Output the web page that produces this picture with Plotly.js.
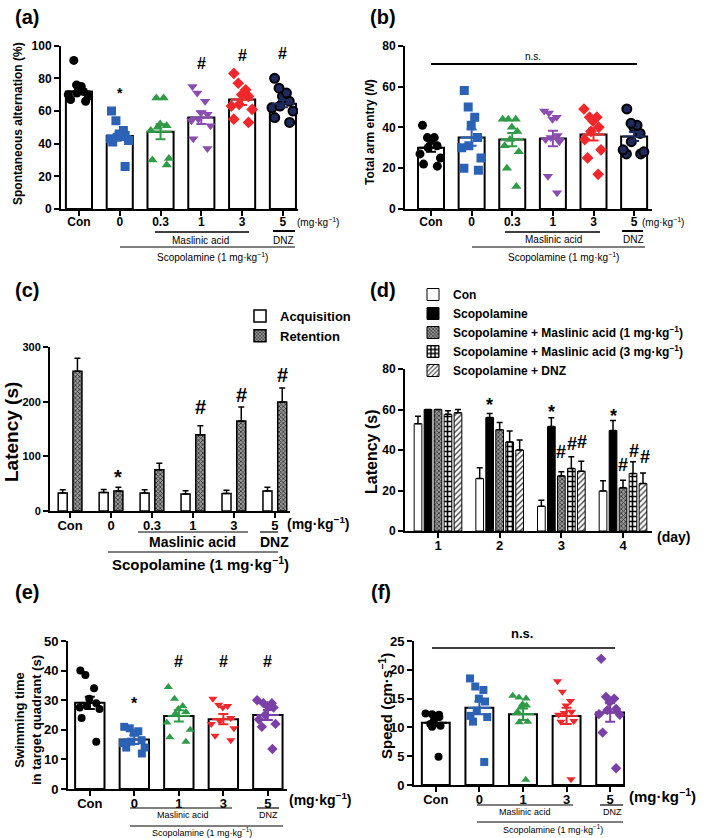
<!DOCTYPE html>
<html>
<head>
<meta charset="utf-8">
<script src="https://cdn.plot.ly/plotly-3.0.1.min.js"></script>
<style>body{margin:0;background:#fff}#chart{width:709px;height:838px}</style>
</head>
<body>
<div id="chart"></div>
<script>
// ---- values ----
const dose6 = ['Con', '0', '0.3', '1', '3', '5'];
const dose5 = ['Con', '0', '1', '3', '5'];
const days = [1, 2, 3, 4];

// (a) spontaneous alternation (%)
const altPoints = [
    [91, 76, 75, 73, 72, 71, 70, 69, 67, 66],
    [60, 54, 48, 46, 45, 44, 43, 42, 41, 26],
    [68, 68, 52, 51, 50, 48, 31, 30, 27],
    [75, 71, 66, 59, 58, 55, 54, 51, 43, 37],
    [83, 77, 73, 70, 69, 64, 63, 61, 55, 53],
    [80, 74, 71, 69, 66, 63, 62, 60, 56, 53]
];
const altMean = [72, 44.7, 47.3, 56, 67, 64.5];
const altSem = [1.8, 2.5, 4.6, 3.9, 3.3, 2.2];

// (b) total arm entry (N)
const entryPoints = [
    [41, 35, 35, 34, 31, 30, 27, 25, 22, 21],
    [58, 50, 45, 41, 35, 31, 30, 25, 20, 19],
    [44, 44, 44, 40, 38, 34, 31, 28, 20, 11],
    [48, 47, 45, 44, 36, 35, 34, 33, 16, 8],
    [49, 45, 45, 43, 40, 38, 34, 29, 25, 17],
    [49, 42, 41, 40, 37, 33, 29, 28, 27, 27]
];
const entryMean = [30, 35, 34, 34.5, 36.5, 35.5];
const entrySem = [2, 4, 3.2, 3.8, 3, 2.2];

// (c) passive avoidance latency (s)
const acqLatency = [33, 34, 33, 31, 32, 36.6];
const acqErr = [6, 5.5, 6, 6, 6, 7];
const retLatency = [255.5, 36.6, 75.6, 139.6, 164.6, 199.4];
const retErr = [24, 6.7, 11.6, 16.5, 25.6, 25.6];

// (d) escape latency per day (s)
const latCon = [53, 25.9, 12.2, 19.8];
const errCon = [3.7, 5.3, 3, 5];
const latScop = [60, 56, 51.6, 49.6];
const errScop = [0, 2, 4.3, 5];
const latMA1 = [60, 50, 27.2, 21.3];
const errMA1 = [0, 3.6, 2, 3.8];
const latMA3 = [57.6, 44, 30.9, 28.4];
const errMA3 = [1.8, 5.4, 5.8, 5.8];
const latDNZ = [58.4, 40, 29.5, 23.4];
const errDNZ = [1.6, 5, 5, 5.3];

// (e) swimming time in target quadrant (s)
const swimPoints = [
    [40, 38.5, 34, 30.5, 29, 28, 27.5, 27, 24, 16],
    [21, 20.5, 19.5, 19, 16.5, 16, 15.5, 14, 14, 12],
    [34.5, 30.5, 28, 27, 26, 25.5, 22.5, 20, 17.5, 16],
    [30.5, 28.5, 28, 27.5, 24, 23, 22, 20.5, 18, 16.5],
    [30, 29, 29, 28, 27.5, 25, 23.5, 22, 21, 13.5]
];
const swimMean = [29.1, 16.7, 24.7, 23.6, 25];
const swimSem = [2.1, 1.5, 1.9, 1.7, 1.7];

// (f) swimming speed (cm/s)
const speedPoints = [
    [12.4, 12.3, 12.2, 12, 11.8, 11.4, 10.6, 10.3, 10.1, 4.9],
    [18.5, 17.1, 16.5, 15, 14.5, 12.9, 12, 11.8, 11, 4],
    [15.5, 15.2, 15, 14, 13.8, 13.6, 12.7, 11, 10.9, 0.9],
    [18, 16.2, 14.6, 13.8, 12.7, 12.5, 12.2, 11.1, 11, 1],
    [21.9, 15.3, 15, 14.4, 13.2, 13, 12.3, 12.2, 9.1, 2.9]
];
const speedMean = [10.8, 13.4, 12.3, 12, 12.6];
const speedSem = [0.6, 1.1, 1, 1.4, 1.6];

// ---- styling ----
const W = 709, H = 838;
const px = x => x / W;
const py = y => 1 - y / H;
const FONT = 'Liberation Sans, Arial, sans-serif';
const KG = 'mg·kg<sup>−1</sup>';

const styleAB = [
    { symbol: 'circle', color: '#000000' },
    { symbol: 'square', color: '#2b62b6' },
    { symbol: 'triangle-up', color: '#2f9a48' },
    { symbol: 'triangle-down', color: '#8a4cb0' },
    { symbol: 'diamond', color: '#f0282b' },
    { symbol: 'circle', color: '#1e2a5c', line: { color: '#000', width: 2 } }
];
const styleEF = [
    { symbol: 'circle', color: '#000000' },
    { symbol: 'square', color: '#2b62b6' },
    { symbol: 'triangle-up', color: '#2f9a48' },
    { symbol: 'triangle-down', color: '#f0282b' },
    { symbol: 'diamond', color: '#7b3fa8' }
];

const traces = [];

// bar of means + jittered points + coloured mean/SEM
function scatterBar(k, cats, points, means, sems, styles, barWidth, mSize) {
    const xa = 'x' + k, ya = 'y' + k;
    const idx = cats.map((c, i) => i);
    traces.push({
        type: 'bar', x: idx, y: means, width: barWidth, xaxis: xa, yaxis: ya,
        marker: { color: '#fff', line: { color: '#000', width: 2 } },
        showlegend: false, hoverinfo: 'skip'
    });
    points.forEach((vals, i) => {
        const st = styles[i];
        traces.push({
            type: 'box', y: vals, x0: i, width: barWidth, xaxis: xa, yaxis: ya,
            boxpoints: 'all', jitter: 1, pointpos: 0,
            line: { width: 0 }, fillcolor: 'rgba(0,0,0,0)',
            marker: { symbol: st.symbol, color: st.color, size: mSize, line: st.line || { width: 0 } },
            showlegend: false, hoverinfo: 'skip'
        });
    });
    means.forEach((m, i) => {
        const c = styles[i].color;
        traces.push({
            type: 'scatter', mode: 'markers', x: [i], y: [m], xaxis: xa, yaxis: ya,
            marker: { symbol: 'line-ew', size: 16, line: { color: c, width: 2 } },
            error_y: { type: 'data', array: [sems[i]], color: c, thickness: 2, width: 5 },
            showlegend: false, hoverinfo: 'skip'
        });
    });
}

scatterBar(1, dose6, altPoints, altMean, altSem, styleAB, 0.64, 9);
scatterBar(2, dose6, entryPoints, entryMean, entrySem, styleAB, 0.64, 9);
scatterBar(5, dose5, swimPoints, swimMean, swimSem, styleEF, 0.66, 8);
scatterBar(6, dose5, speedPoints, speedMean, speedSem, styleEF, 0.64, 8);

// (c) grouped bars
const hatch = { shape: 'x', fgcolor: '#2a2a2a', bgcolor: '#9a9a9a', size: 3, solidity: 0.45 };
const idx6 = dose6.map((c, i) => i);
const upErr = (arr) => ({ type: 'data', symmetric: false, array: arr, arrayminus: arr.map(() => 0), color: '#000', thickness: 1.5, width: 3 });
traces.push({
    type: 'bar', name: 'Acquisition', x: idx6, y: acqLatency, width: 0.22, offset: -0.29,
    xaxis: 'x3', yaxis: 'y3', legend: 'legend',
    marker: { color: '#fff', line: { color: '#000', width: 1.5 } }, error_y: upErr(acqErr), hoverinfo: 'skip'
});
traces.push({
    type: 'bar', name: 'Retention', x: idx6, y: retLatency, width: 0.22, offset: 0.07,
    xaxis: 'x3', yaxis: 'y3', legend: 'legend',
    marker: { color: '#9a9a9a', pattern: hatch, line: { color: '#000', width: 1.5 } }, error_y: upErr(retErr), hoverinfo: 'skip'
});

// (d) five series per day
const dSeries = [
    { name: 'Con', y: latCon, e: errCon, marker: { color: '#fff' } },
    { name: 'Scopolamine', y: latScop, e: errScop, marker: { color: '#000' } },
    { name: 'Scopolamine + Maslinic acid (1 ' + KG + ')', y: latMA1, e: errMA1, marker: { color: '#9a9a9a', pattern: hatch } },
    { name: 'Scopolamine + Maslinic acid (3 ' + KG + ')', y: latMA3, e: errMA3, marker: { color: '#fff', pattern: { shape: '+', fgcolor: '#000', bgcolor: '#fff', size: 5, solidity: 0.55 } } },
    { name: 'Scopolamine + DNZ', y: latDNZ, e: errDNZ, marker: { color: '#fff', pattern: { shape: '/', fgcolor: '#444', bgcolor: '#fff', size: 4, solidity: 0.35 } } }
];
const dStep = 0.162, dWidth = 0.125;
dSeries.forEach((s, k) => {
    traces.push({
        type: 'bar', name: s.name, x: days, y: s.y, width: dWidth, offset: (k - 2) * dStep - dWidth / 2,
        xaxis: 'x4', yaxis: 'y4', legend: 'legend2',
        marker: Object.assign({ line: { color: '#000', width: 1 } }, s.marker),
        error_y: upErr(s.e), hoverinfo: 'skip'
    });
});

// ---- axes ----
function axes(k, xpx, ypx, xr, yr, dtick, tickvals, ticktext, yFont, xFont) {
    const base = {
        showline: true, linecolor: '#000', linewidth: 2, ticks: 'outside', ticklen: 5, tickwidth: 2,
        tickcolor: '#000', showgrid: false, zeroline: false, fixedrange: true
    };
    const s = k === 1 ? '' : k;
    return {
        ['xaxis' + s]: Object.assign({}, base, {
            domain: [px(xpx[0]), px(xpx[1])], anchor: 'y' + k, range: xr,
            tickmode: 'array', tickvals: tickvals, ticktext: ticktext, ticklabelstandoff: -4,
            tickfont: { family: FONT, size: xFont, color: '#000', weight: 'bold' }
        }),
        ['yaxis' + s]: Object.assign({}, base, {
            domain: [py(ypx[1]), py(ypx[0])], anchor: 'x' + k, range: yr, dtick: dtick,
            tickfont: { family: FONT, size: yFont, color: '#000', weight: 'bold' }
        })
    };
}

const layout = Object.assign({
    width: W, height: H, margin: { l: 0, r: 0, t: 0, b: 0 },
    paper_bgcolor: '#fff', plot_bgcolor: 'rgba(0,0,0,0)',
    barmode: 'group', boxmode: 'overlay',
    font: { family: FONT, color: '#000' },
    legend: {
        x: px(240), y: py(301), xanchor: 'left', yanchor: 'top', bgcolor: 'rgba(0,0,0,0)',
        font: { family: FONT, size: 13, weight: 'bold' }, tracegroupgap: 0, itemclick: false
    },
    legend2: {
        x: px(413), y: py(280), xanchor: 'left', yanchor: 'top', bgcolor: 'rgba(0,0,0,0)',
        font: { family: FONT, size: 12, weight: 'bold' }, tracegroupgap: 0, itemclick: false,
        traceorder: 'normal'
    }
},
    axes(1, [61, 298], [45.7, 209], [-0.44, 5.37], [0, 100], 20, idx6, dose6, 12, 12),
    axes(2, [405, 652], [45.7, 209], [-0.64, 5.44], [0, 80], 20, idx6, dose6, 12, 12),
    axes(3, [50, 290], [347, 511], [-0.49, 5.37], [0, 300], 100, idx6, dose6, 11, 13),
    axes(4, [405, 652], [369, 531], [0.465, 4.47], [0, 80], 20, days, days.map(String), 12, 13),
    axes(5, [68, 287], [641, 789], [-0.49, 4.43], [0, 50], 10, [0, 1, 2, 3, 4], dose5, 13, 13),
    axes(6, [414, 625], [641, 785], [-0.5, 4.34], [0, 25], 5, [0, 1, 2, 3, 4], dose5, 13, 13)
);

// ---- text and brackets ----
const ann = [];
const shapes = [];
function txt(x, y, text, size, bold, extra) {
    ann.push(Object.assign({
        xref: 'paper', yref: 'paper', x: px(x), y: py(y), text: text, showarrow: false,
        xanchor: 'center', yanchor: 'middle',
        font: { family: FONT, size: size, color: '#000', weight: bold ? 'bold' : 'normal' }
    }, extra || {}));
}
function ytitle(x, y, text, size) {
    txt(x, y, text, size, true, { textangle: -90 });
}
function line(x0, y0, x1, y1, w) {
    shapes.push({ type: 'line', xref: 'paper', yref: 'paper', x0: px(x0), y0: py(y0), x1: px(x1), y1: py(y1), line: { color: '#000', width: w } });
}
function mark(k, x, y, text, size) {
    ann.push({
        xref: 'x' + k, yref: 'y' + k, x: x, y: y, text: text, showarrow: false,
        font: { family: FONT, size: size, color: '#000', weight: 'bold' }
    });
}

// panel letters
txt(27, 17, '(a)', 20, true);
txt(383, 17, '(b)', 20, true);
txt(27, 290, '(c)', 20, true);
txt(383, 290, '(d)', 20, true);
txt(27, 592, '(e)', 20, true);
txt(381, 592, '(f)', 20, true);

// axis titles
ytitle(18, 124, 'Spontaneous alternation (%)', 12);
ytitle(370, 132, 'Total arm entry (<i>N</i>)', 12);
ytitle(11, 432, 'Latency (s)', 19);
ytitle(371, 452, 'Latency (s)', 16);
ytitle(28, 720, 'Swimming time<br>in target quadrant (s)', 13);
ytitle(385, 706, 'Speed (cm·s<sup>−1</sup>)', 15);

// (a) brackets
txt(318, 222, '(' + KG + ')', 10, false);
line(155, 232, 249, 232, 1.5); txt(200, 241, 'Maslinic acid', 10, false);
line(273, 231, 295, 231, 2); txt(283, 241, 'DNZ', 10, false);
line(120, 247, 295, 247, 1.2); txt(213, 257, 'Scopolamine (1 ' + KG + ')', 10, false);
// (b) brackets
txt(663, 222, '(' + KG + ')', 10, false);
line(505, 232, 600, 232, 1.5); txt(553, 240, 'Maslinic acid', 10, false);
line(622, 231, 643, 231, 2); txt(633, 240, 'DNZ', 10, false);
line(472, 247, 645, 247, 1.2); txt(563, 257, 'Scopolamine (1 ' + KG + ')', 10, false);
line(431, 64, 637, 64, 2); txt(533, 56, 'n.s.', 10, false);
// (c) brackets
txt(318, 523, '(' + KG + ')', 14, true);
line(138, 532, 248, 532, 1.2); txt(192, 542, 'Maslinic acid', 14, true);
line(260, 532, 278, 532, 1.2); txt(274, 542, 'DNZ', 14, true);
line(108, 552, 278, 552, 1.2); txt(200, 563, 'Scopolamine (1 ' + KG + ')', 15, true);
// (d)
txt(673, 537, '(day)', 14, true);
// (e) brackets
txt(320, 799, '(' + KG + ')', 14, true);
line(130, 808, 232, 808, 1.2); txt(183, 815, 'Maslinic acid', 9, false);
line(257, 808, 279, 808, 1.2); txt(268, 815, 'DNZ', 9, false);
line(130, 826, 283, 826, 1.2); txt(202, 832, 'Scopolamine (1 ' + KG + ')', 9, false);
// (f) brackets
txt(662, 795, '(' + KG + ')', 15, true);
line(477, 805, 573, 805, 1.2); txt(525, 812, 'Maslinic acid', 9, false);
line(600, 805, 623, 805, 1.2); txt(612, 812, 'DNZ', 9, false);
line(477, 822, 623, 822, 1.2); txt(553, 829, 'Scopolamine (1 ' + KG + ')', 9, false);
line(432, 648, 615, 648, 1.5); txt(522, 633, 'n.s.', 13, true);

// significance marks
mark(1, 1, 71, '*', 14);
mark(1, 3, 89, '#', 16); mark(1, 4, 94, '#', 16); mark(1, 5, 95.5, '#', 16);
mark(3, 1.18, 63, '*', 20);
mark(3, 3.18, 190, '#', 20); mark(3, 4.18, 212, '#', 20); mark(3, 5.18, 248, '#', 20);
[2, 3, 4].forEach((d, i) => mark(4, d - dStep, [62, 58.6, 57][i], '*', 18));
mark(4, 3, 39, '#', 18); mark(4, 3 + 0.18, 43, '#', 18); mark(4, 3 + 0.34, 44, '#', 18);
mark(4, 4, 32.7, '#', 18); mark(4, 4 + 0.18, 39.4, '#', 18); mark(4, 4 + 0.36, 36.5, '#', 18);
mark(5, 1, 29, '*', 16);
mark(5, 2, 43, '#', 16); mark(5, 3, 43, '#', 16); mark(5, 4, 43, '#', 16);

layout.annotations = ann;
layout.shapes = shapes;

Plotly.newPlot('chart', traces, layout, { staticPlot: true, responsive: false });
</script>
</body>
</html>
